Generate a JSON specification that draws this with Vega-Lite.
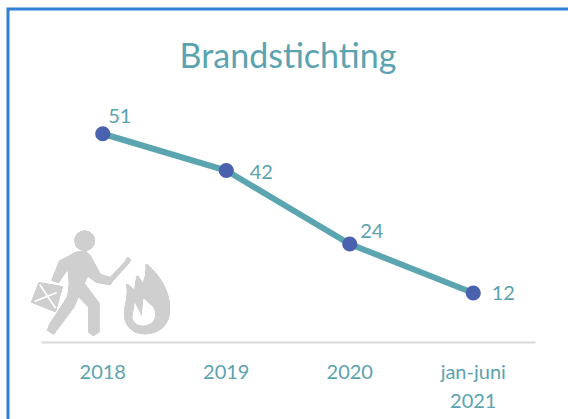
{
"$schema":"https://vega.github.io/schema/vega-lite/v6.json",
"width":575,"height":415,
"autosize":{"type":"none"},
"padding":{"left":8,"top":9,"right":0,"bottom":0},
"background":"white",
"view":{"stroke":"#2E7FD6","strokeWidth":3,"fill":"white"},
"title":{"text":"Brandstichting","anchor":"middle","frame":"group","font":"Lato","fontSize":34,"fontWeight":"normal","color":"#5BA3B0","offset":-66,"dx":-7.5},
"data":{"values":[
{"jaar":"2018","aantal":51},
{"jaar":"2019","aantal":42},
{"jaar":"2020","aantal":24},
{"jaar":"jan-juni 2021","aantal":12}]},
"encoding":{
"x":{"field":"jaar","type":"nominal","sort":null,"title":null,
"scale":{"type":"band","range":[33,527],"paddingInner":0,"paddingOuter":0},
"axis":{"offset":-82,"orient":"bottom","labelAngle":0,"ticks":false,"domainColor":"#D9D9D9","domainWidth":2,"grid":false,"labelFont":"Lato","labelFontSize":20,"labelColor":"#5BA3B0","labelPadding":20,"labelLineHeight":29,"labelExpr":"datum.label=='jan-juni 2021'?['jan-juni','2021']:datum.label"}},
"y":{"field":"aantal","type":"quantitative","title":null,"scale":{"domain":[0,60],"range":[333,88],"nice":false},"axis":null}
},
"layer":[
{"mark":{"type":"point","filled":true,"opacity":1,"stroke":"#CFCFCF","strokeWidth":2,"strokeJoin":"round","shape":"M-26.1,-40.3L-42.8,-31.3L-50.1,-13L-44.4,-11.3L-34.4,-26.3L-32.8,-9.7L-34.4,3.7L-52.8,32L-54.4,37L-49.4,40.3L-29.4,13.7L-24.4,2L-13.4,13.7L-13.4,38.7L-9.4,42L-4.4,38.7L-4.4,10.3L-19.4,-9.7L-15.4,-18L-6.1,-11.3L7.2,-9L9,-12L25.6,-30.3L27,-33L25,-34.7L23.3,-31.3L7.9,-14.7L-2.75,-18L-12.75,-36.3L-17.75,-41.3Z M-27.4,-52.3A9.3,9.3 0 1,0 -8.8,-52.3A9.3,9.3 0 1,0 -27.4,-52.3Z M-70.4,8.7L-63.4,-9.7L-41.1,-5.7L-47.75,17.7Z M43.9,-28C55,-18 66,-3 66.25,15C67,30 57,40.3 42,40.3C30,40.3 22,32 22.25,20C22.5,10 27,5 24.6,-8L32.25,-1.3L34.6,-16.3L40.6,-8C43,-14 44.5,-21 43.9,-28Z","size":4,"color":"#CFCFCF"},
"encoding":{"x":{"datum":"2018"},"y":{"datum":12}}},
{"mark":{"type":"point","filled":true,"opacity":1,"shape":"M30,24L32.25,10.3L39,24L41,6L50,14C53,20 53,25 49,29C45,33 36,33 33,30C31,28 30,26 30,24Z M-63.4,-8L-62.4,-8.6L-46.75,14.7L-47.75,15.3Z M-67.75,8.7L-46.1,0.3L-46.4,-0.7L-68,7.7Z","size":4,"color":"white"},
"encoding":{"x":{"datum":"2018"},"y":{"datum":12}}},
{"mark":{"type":"line","color":"#5AA5AF","strokeWidth":6}},
{"mark":{"type":"point","filled":true,"opacity":1,"color":"#4A62AE","size":230}},
{"transform":[{"filter":"datum.aantal==51"}],"mark":{"type":"text","font":"Lato","fontSize":20,"color":"#5BA3B0","dx":17,"dy":-17},"encoding":{"text":{"field":"aantal","type":"quantitative"}}},
{"transform":[{"filter":"datum.aantal==42"}],"mark":{"type":"text","font":"Lato","fontSize":20,"color":"#5BA3B0","dx":35,"dy":2},"encoding":{"text":{"field":"aantal","type":"quantitative"}}},
{"transform":[{"filter":"datum.aantal==24"}],"mark":{"type":"text","font":"Lato","fontSize":20,"color":"#5BA3B0","dx":22,"dy":-12},"encoding":{"text":{"field":"aantal","type":"quantitative"}}},
{"transform":[{"filter":"datum.aantal==12"}],"mark":{"type":"text","font":"Lato","fontSize":20,"color":"#5BA3B0","dx":30,"dy":1},"encoding":{"text":{"field":"aantal","type":"quantitative"}}}
]
}
